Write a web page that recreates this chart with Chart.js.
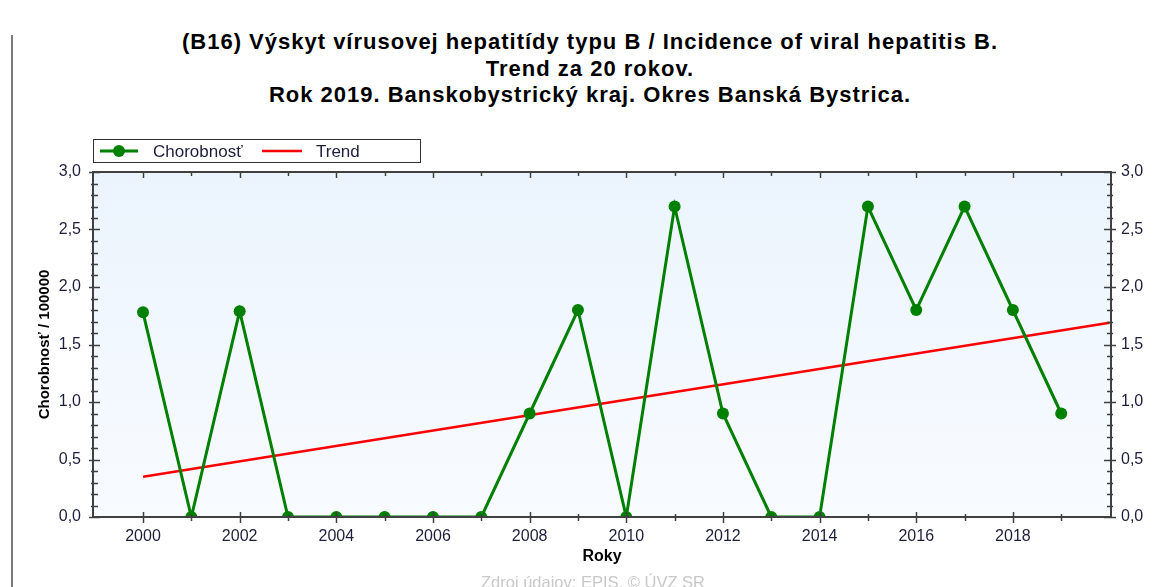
<!DOCTYPE html>
<html><head><meta charset="utf-8">
<script src="https://cdn.jsdelivr.net/npm/chart.js@4/dist/chart.umd.min.js"></script>
<style>
html,body{margin:0;padding:0;background:#fff;width:1161px;height:587px;overflow:hidden;font-family:"Liberation Sans",Arial,sans-serif;}
#title{position:absolute;left:0;width:1180px;top:29px;text-align:center;font-weight:bold;font-size:22px;letter-spacing:1px;line-height:26.5px;color:#000;white-space:nowrap;}
#vline{position:absolute;left:11px;top:35px;width:2px;height:560px;background:#7a7a7a;}
#footer{position:absolute;left:0;width:1186px;top:573px;text-align:center;font-size:16.5px;color:#c8c8c8;white-space:nowrap;}
#wrap{position:absolute;left:0;top:130px;width:1161px;height:457px;}
</style></head>
<body>
<div id="vline"></div>
<div id="title">(B16) Výskyt vírusovej hepatitídy typu B / Incidence of viral hepatitis B.<br>Trend za 20 rokov.<br>Rok 2019. Banskobystrický kraj. Okres Banská Bystrica.</div>
<div id="wrap"><canvas id="c" width="1161" height="457"></canvas></div>
<div id="footer">Zdroj údajov: EPIS, © ÚVZ SR</div>
<script>
const years = [2000,2001,2002,2003,2004,2005,2006,2007,2008,2009,2010,2011,2012,2013,2014,2015,2016,2017,2018,2019];
const incidence = [1.78,0,1.79,0,0,0,0,0,0.9,1.8,0,2.7,0.9,0,0,2.7,1.8,2.7,1.8,0.9];
const trendYears = [2000,2020];
const trendValues = [0.35,1.69];
const xTickYears = [2000,2001,2002,2003,2004,2005,2006,2007,2008,2009,2010,2011,2012,2013,2014,2015,2016,2017,2018,2019];
const xLabelYears = [2000,2002,2004,2006,2008,2010,2012,2014,2016,2018];
const yTickValues = [0,0.1,0.2,0.3,0.4,0.5,0.6,0.7,0.8,0.9,1.0,1.1,1.2,1.3,1.4,1.5,1.6,1.7,1.8,1.9,2.0,2.1,2.2,2.3,2.4,2.5,2.6,2.7,2.8,2.9,3.0];
const yLabelValues = [0,0.5,1.0,1.5,2.0,2.5,3.0];
const seriesNames = ['Chorobnosť','Trend'];

const TICKCOL = '#1e1e3c';
const FAM = '"Liberation Sans", Arial, sans-serif';
const fmtY = v => yLabelValues.some(l => Math.abs(l - v) < 1e-6) ? v.toFixed(1).replace('.', ',') : '';
const isMajorY = v => yLabelValues.some(l => Math.abs(l - v) < 1e-6);

const bgPlugin = {
  id: 'bg',
  beforeDraw(chart) {
    const {ctx, chartArea: a} = chart;
    const g = ctx.createLinearGradient(0, a.top, 0, a.bottom);
    g.addColorStop(0, '#ebf4fd');
    g.addColorStop(1, '#f8fbff');
    ctx.save();
    ctx.fillStyle = g;
    ctx.fillRect(a.left, a.top, a.right - a.left, a.bottom - a.top);
    ctx.restore();
  }
};

const framePlugin = {
  id: 'frame',
  afterDraw(chart) {
    const {ctx, chartArea: a} = chart;
    const xs = chart.scales.x, ys = chart.scales.y;
    ctx.save();
    ctx.strokeStyle = '#404040';
    ctx.lineWidth = 2;
    ctx.strokeRect(a.left, a.top, a.right - a.left, a.bottom - a.top);
    ctx.lineWidth = 1.5;
    ctx.beginPath();
    xTickYears.forEach(v => {
      const px = Math.round(xs.getPixelForValue(v)) + 0.5;
      const major = xLabelYears.includes(v);
      ctx.moveTo(px, a.bottom - (major ? 5 : 3));
      ctx.lineTo(px, a.bottom + (major ? 6 : 4));
      ctx.moveTo(px, a.top);
      ctx.lineTo(px, a.top + (major ? 6 : 4));
    });
    yTickValues.forEach(v => {
      const py = Math.round(ys.getPixelForValue(v)) + 0.5;
      const major = isMajorY(v);
      ctx.moveTo(a.left - (major ? 4 : 2), py);
      ctx.lineTo(a.left + (major ? 7 : 5), py);
      ctx.moveTo(a.right - (major ? 7 : 4), py);
      ctx.lineTo(a.right + (major ? 5 : 2), py);
    });
    ctx.stroke();

    // legend
    const lx = 93.5, ly = 9.5, lw = 327, lh = 23;
    ctx.fillStyle = '#ffffff';
    ctx.fillRect(lx, ly, lw, lh);
    ctx.strokeStyle = '#303030';
    ctx.lineWidth = 1;
    ctx.strokeRect(lx, ly, lw, lh);
    const cy = ly + lh / 2;
    const ds = chart.data.datasets;
    ctx.font = '17px ' + FAM;
    ctx.textBaseline = 'middle';
    ctx.textAlign = 'left';
    ctx.strokeStyle = ds[0].borderColor;
    ctx.lineWidth = 3;
    ctx.beginPath(); ctx.moveTo(100, cy); ctx.lineTo(138, cy); ctx.stroke();
    ctx.fillStyle = ds[0].pointBackgroundColor;
    ctx.beginPath(); ctx.arc(119, cy, 6, 0, Math.PI * 2); ctx.fill();
    ctx.fillStyle = TICKCOL;
    ctx.fillText(ds[0].label, 153, cy + 1);
    ctx.strokeStyle = ds[1].borderColor;
    ctx.lineWidth = 2.5;
    ctx.beginPath(); ctx.moveTo(262, cy); ctx.lineTo(302, cy); ctx.stroke();
    ctx.fillStyle = TICKCOL;
    ctx.fillText(ds[1].label, 316, cy + 1);
    ctx.restore();
  }
};

new Chart(document.getElementById('c'), {
  type: 'line',
  data: {
    datasets: [
      {
        label: seriesNames[0],
        data: years.map((y, i) => ({x: y, y: incidence[i]})),
        borderColor: '#008000',
        backgroundColor: '#008000',
        pointBackgroundColor: '#008000',
        pointBorderColor: '#008000',
        borderWidth: 3,
        pointRadius: 6,
        pointBorderWidth: 0,
        tension: 0,
        clip: 0,
        order: 1
      },
      {
        label: seriesNames[1],
        data: trendYears.map((y, i) => ({x: y, y: trendValues[i]})),
        borderColor: '#ff0000',
        backgroundColor: '#ff0000',
        borderWidth: 2.5,
        pointRadius: 0,
        tension: 0,
        clip: 0,
        order: 2
      }
    ]
  },
  options: {
    responsive: false,
    animation: false,
    events: [],
    layout: {padding: {top: 42, left: 0, right: 0, bottom: 0}},
    plugins: {legend: {display: false}, title: {display: false}, tooltip: {enabled: false}},
    scales: {
      x: {
        type: 'linear', position: 'bottom',
        min: 1998.965, max: 2020.03,
        afterBuildTicks: s => { s.ticks = xTickYears.map(v => ({value: v})); },
        afterFit: s => { s.height = 70; },
        grid: {display: false, drawTicks: false},
        border: {display: false},
        ticks: {
          autoSkip: false, maxRotation: 0, padding: 10, color: TICKCOL,
          font: {size: 16, family: FAM},
          callback: v => xLabelYears.includes(v) ? String(v) : ''
        },
        title: {display: true, text: 'Roky', color: '#000',
          font: {size: 16, weight: 'bold', family: FAM},
          padding: {top: 0, bottom: 21}}
      },
      y: {
        type: 'linear', position: 'left',
        min: 0, max: 3,
        afterBuildTicks: s => { s.ticks = yTickValues.map(v => ({value: v})); },
        afterFit: s => { s.width = 93; },
        grid: {display: false, drawTicks: false},
        border: {display: false},
        ticks: {autoSkip: false, padding: 12, color: TICKCOL,
          font: {size: 16, family: FAM},
          callback: fmtY},
        title: {display: true, text: 'Chorobnosť / 100000', color: '#000',
          font: {size: 15, weight: 'bold', family: FAM},
          padding: {top: 36, bottom: 0}}
      },
      y2: {
        type: 'linear', position: 'right',
        min: 0, max: 3,
        afterBuildTicks: s => { s.ticks = yTickValues.map(v => ({value: v})); },
        afterFit: s => { s.width = 50; },
        grid: {display: false, drawTicks: false},
        border: {display: false},
        ticks: {autoSkip: false, padding: 10, color: TICKCOL,
          font: {size: 16, family: FAM},
          callback: fmtY}
      }
    }
  },
  plugins: [bgPlugin, framePlugin]
});
</script>
</body></html>
